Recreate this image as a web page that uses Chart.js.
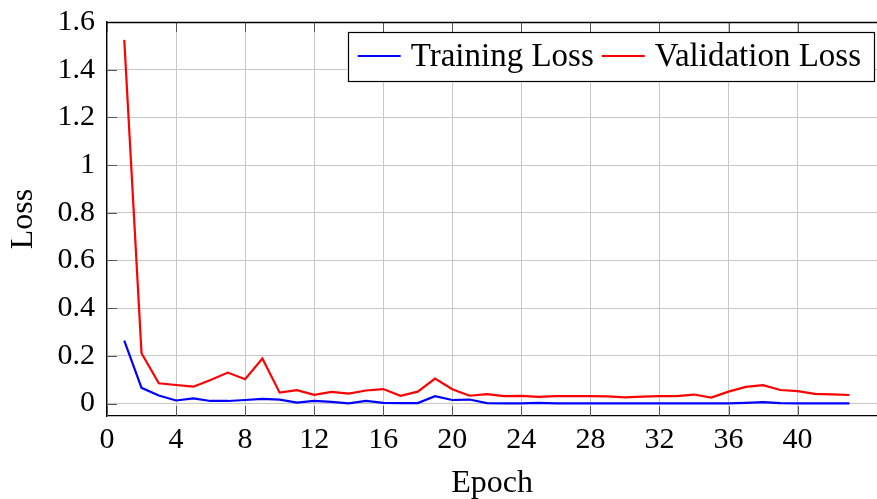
<!DOCTYPE html>
<html>
<head>
<meta charset="utf-8">
<script src="https://cdn.jsdelivr.net/npm/chart.js@4.4.1/dist/chart.umd.min.js"></script>
<style>
  html, body { margin: 0; padding: 0; background: #fff; overflow: hidden; }
  #wrap { width: 877px; height: 499px; position: relative; }
</style>
</head>
<body>
<div id="wrap"><canvas id="c" width="877" height="499"></canvas></div>
<script>
const epochs = [1,2,3,4,5,6,7,8,9,10,11,12,13,14,15,16,17,18,19,20,21,22,23,24,25,26,27,28,29,30,31,32,33,34,35,36,37,38,39,40,41,42,43];
const trainingLoss = [0.264,0.066,0.034,0.013,0.022,0.011,0.011,0.015,0.020,0.017,
                      0.004,0.011,0.007,0.001,0.011,0.003,0.002,0.002,0.031,0.015,
                      0.017,0.002,0.001,0.001,0.003,0.001,0.001,0.001,0.001,0.001,
                      0.001,0.001,0.001,0.001,0.001,0.001,0.003,0.006,0.002,0.001,
                      0.001,0.001,0.001];
const validationLoss = [1.525,0.211,0.085,0.078,0.071,0.099,0.130,0.102,0.189,0.046,
                        0.056,0.037,0.049,0.042,0.055,0.061,0.033,0.050,0.105,0.060,
                        0.033,0.040,0.031,0.032,0.028,0.031,0.031,0.031,0.030,0.026,
                        0.029,0.031,0.031,0.038,0.025,0.050,0.070,0.077,0.057,0.052,
                        0.041,0.039,0.036];
const xTickValues = [0,4,8,12,16,20,24,28,32,36,40];
const yTickValues = [0,0.2,0.4,0.6,0.8,1,1.2,1.4,1.6];
const seriesNames = ['Training Loss','Validation Loss'];
const xTitle = 'Epoch';
const yTitle = 'Loss';

const FONT = "'Liberation Serif', 'Times New Roman', serif";

const toPoints = (xs, ys) => xs.map((x, i) => ({x: x, y: ys[i]}));

const frameTicks = {
  id: 'frameTicks',
  beforeDatasetsDraw(chart) {
    const {ctx, chartArea: a, scales} = chart;
    ctx.save();
    ctx.strokeStyle = '#555';
    ctx.lineWidth = 1;
    ctx.beginPath();
    const L = 10;
    scales.x.ticks.forEach(t => {
      const px = Math.round(scales.x.getPixelForValue(t.value)) + 0.5;
      ctx.moveTo(px, a.bottom); ctx.lineTo(px, a.bottom - L);
      ctx.moveTo(px, a.top); ctx.lineTo(px, a.top + L);
    });
    scales.y.ticks.forEach(t => {
      const py = Math.round(scales.y.getPixelForValue(t.value)) + 0.5;
      ctx.moveTo(a.left, py); ctx.lineTo(a.left + L, py);
    });
    ctx.stroke();
    ctx.restore();
  },
  afterDraw(chart) {
    const {ctx, chartArea: a} = chart;
    ctx.save();
    ctx.strokeStyle = '#000';
    ctx.lineWidth = 1.3;
    ctx.beginPath();
    ctx.moveTo(a.left, a.top + 0.5);
    ctx.lineTo(a.right, a.top + 0.5);
    ctx.stroke();
    ctx.restore();
  }
};

const boxLegend = {
  id: 'boxLegend',
  afterDraw(chart) {
    const {ctx, chartArea: a} = chart;
    const ds = chart.data.datasets;
    ctx.save();
    ctx.font = "33px " + FONT;
    const lineLen = 43, gapLT = 10, gapTL = 8, padL = 10, padR = 13;
    const widths = ds.map(d => ctx.measureText(d.label).width);
    let total = padL + padR;
    widths.forEach((w, i) => { total += lineLen + gapLT + w + (i < widths.length - 1 ? gapTL : 0); });
    const right = a.right - 3;
    const left = right - total;
    const top = 32, bottom = 81;
    const midY = 56;
    ctx.fillStyle = '#fff';
    ctx.fillRect(left, top, total, bottom - top);
    ctx.strokeStyle = '#000';
    ctx.lineWidth = 1.2;
    ctx.strokeRect(Math.round(left) + 0.5, top + 0.5, Math.round(total), bottom - top);
    let x = left + padL;
    ds.forEach((d, i) => {
      ctx.strokeStyle = d.borderColor;
      ctx.lineWidth = d.borderWidth;
      ctx.beginPath();
      ctx.moveTo(x, midY); ctx.lineTo(x + lineLen, midY);
      ctx.stroke();
      x += lineLen + gapLT;
      ctx.fillStyle = '#000';
      ctx.textBaseline = 'middle';
      ctx.textAlign = 'left';
      ctx.fillText(d.label, x, midY + 1);
      x += widths[i] + gapTL;
    });
    ctx.restore();
  }
};

const zeroPad = s => { s.paddingTop = 0; s.paddingBottom = 0; s.paddingLeft = 0; s.paddingRight = 0; };

new Chart(document.getElementById('c'), {
  type: 'line',
  data: {
    datasets: [
      { label: seriesNames[0], data: toPoints(epochs, trainingLoss), borderColor: 'rgb(0,0,255)', borderWidth: 2.2, pointRadius: 0, tension: 0, fill: false },
      { label: seriesNames[1], data: toPoints(epochs, validationLoss), borderColor: 'rgb(255,0,0)', borderWidth: 2.2, pointRadius: 0, tension: 0, fill: false }
    ]
  },
  options: {
    responsive: false,
    animation: false,
    devicePixelRatio: 1,
    layout: { padding: { top: 22, right: 0, left: 0, bottom: 0 } },
    plugins: { legend: { display: false }, tooltip: { enabled: false } },
    scales: {
      x: {
        type: 'linear', min: 0, max: 44.6,
        afterBuildTicks: s => { s.ticks = xTickValues.map(v => ({value: v})); },
        afterFit: s => { s.height = 83; zeroPad(s); },
        grid: { color: '#c8c8c8', lineWidth: 1, drawTicks: false },
        border: { display: true, color: '#000', width: 1.3 },
        ticks: { font: { family: FONT, size: 30 }, color: '#000', padding: 6, maxRotation: 0, autoSkip: false },
        title: { display: true, text: xTitle, font: { family: FONT, size: 32, lineHeight: 1 }, color: '#000', padding: { top: 0, bottom: -1 } }
      },
      y: {
        type: 'linear', min: -0.052, max: 1.6,
        afterBuildTicks: s => { s.ticks = yTickValues.map(v => ({value: v})); },
        afterFit: s => { s.width = 107; zeroPad(s); },
        grid: { color: '#c8c8c8', lineWidth: 1, drawTicks: false },
        border: { display: true, color: '#000', width: 1.3 },
        ticks: { font: { family: FONT, size: 30 }, color: '#000', padding: 12, autoSkip: false,
                 callback: v => String(Math.round(v * 10) / 10) },
        title: { display: true, text: yTitle, font: { family: FONT, size: 32, lineHeight: 1 }, color: '#000', padding: { top: 8, bottom: 0 } }
      }
    }
  },
  plugins: [frameTicks, boxLegend]
});
</script>
</body>
</html>
